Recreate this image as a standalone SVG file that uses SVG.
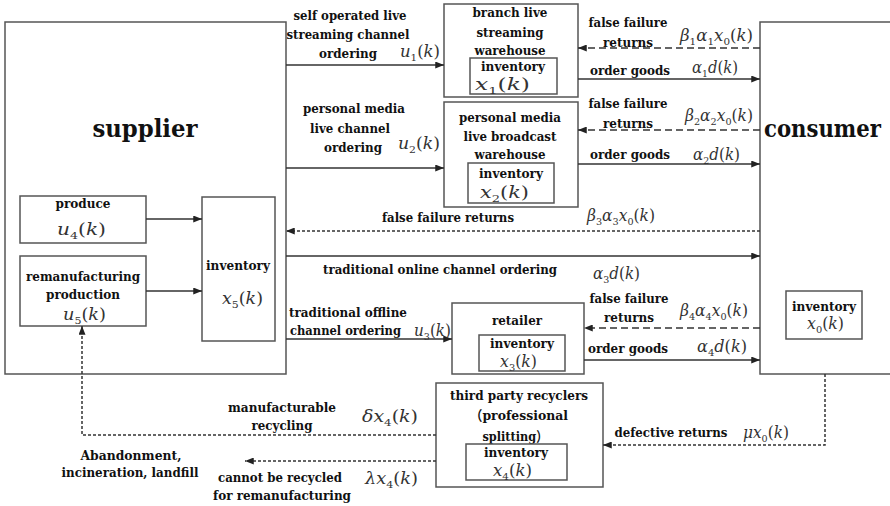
<svg xmlns="http://www.w3.org/2000/svg" width="890" height="506" viewBox="0 0 890 506">
<defs>
<marker id="ah" viewBox="0 0 10 8" markerWidth="9" markerHeight="7" refX="10" refY="4" orient="auto" markerUnits="userSpaceOnUse"><path d="M0,0 L10,4 L0,8 z" fill="#222"/></marker>
<style>
text{font-family:"DejaVu Serif","Liberation Serif",serif}
.box{fill:#fff;stroke:#555;stroke-width:1.5}
.t{font-weight:bold;font-size:13.5px;fill:#111;text-anchor:middle}
.ts{text-anchor:start}
.big{font-size:25px}
.m{font-style:italic;font-size:16px;fill:#333}
.s{font-size:10px;font-style:normal}
.n{font-style:normal}
.cj{font-family:"DejaVu Serif","Noto Sans CJK SC",serif}
.c{fill:none;stroke:#333;stroke-width:1.5}
.ar{marker-end:url(#ah)}
.d1{stroke-dasharray:7 4}
.d2{stroke-dasharray:3 2}
</style>
</defs>
<rect width="890" height="506" fill="#fff"/>

<g id="supplier">
<rect class="box" x="5" y="22" width="281" height="352"/>
<text class="t big" x="145" y="137" textLength="105" lengthAdjust="spacingAndGlyphs">supplier</text>
</g>

<g id="consumer">
<rect class="box" x="760" y="22" width="140" height="352"/>
<text class="t big ts" x="764" y="137" textLength="117" lengthAdjust="spacingAndGlyphs">consumer</text>
</g>

<g id="branch">
<rect class="box" x="444" y="4" width="134" height="93"/>
<text class="t" x="510" y="17" textLength="75" lengthAdjust="spacingAndGlyphs">branch live</text>
<text class="t" x="510" y="37" textLength="67" lengthAdjust="spacingAndGlyphs">streaming</text>
<text class="t" x="510" y="55" textLength="71" lengthAdjust="spacingAndGlyphs">warehouse</text>
<rect class="box" x="470" y="58" width="87" height="36"/>
<text class="t" x="513" y="71" textLength="64" lengthAdjust="spacingAndGlyphs">inventory</text>
<text class="m" x="475" y="90" font-size="21" textLength="55" lengthAdjust="spacingAndGlyphs">x<tspan class="s" font-size="12" dy="4">1</tspan><tspan class="n" dy="-4">(</tspan>k<tspan class="n">)</tspan></text>
</g>

<g id="personal">
<rect class="box" x="444" y="102" width="134" height="105"/>
<text class="t" x="510" y="122" textLength="102" lengthAdjust="spacingAndGlyphs">personal media</text>
<text class="t" x="510" y="141" textLength="93" lengthAdjust="spacingAndGlyphs">live broadcast</text>
<text class="t" x="510" y="159" textLength="71" lengthAdjust="spacingAndGlyphs">warehouse</text>
<rect class="box" x="468" y="163" width="86" height="40"/>
<text class="t" x="511" y="178" textLength="64" lengthAdjust="spacingAndGlyphs">inventory</text>
<text class="m" x="480" y="198" font-size="19" textLength="49" lengthAdjust="spacingAndGlyphs">x<tspan class="s" font-size="11" dy="4">2</tspan><tspan class="n" dy="-4">(</tspan>k<tspan class="n">)</tspan></text>
</g>

<g id="produce">
<rect class="box" x="20" y="196" width="126" height="47"/>
<text class="t" x="83" y="208" textLength="55" lengthAdjust="spacingAndGlyphs">produce</text>
<text class="m" x="57" y="235" font-size="21" textLength="49" lengthAdjust="spacingAndGlyphs">u<tspan class="s" font-size="12" dy="4">4</tspan><tspan class="n" dy="-4">(</tspan>k<tspan class="n">)</tspan></text>
</g>

<g id="reman">
<rect class="box" x="20" y="256" width="126" height="70"/>
<text class="t" x="83" y="281" textLength="114" lengthAdjust="spacingAndGlyphs">remanufacturing</text>
<text class="t" x="83" y="299" textLength="74" lengthAdjust="spacingAndGlyphs">production</text>
<text class="m" x="63" y="320" font-size="19" textLength="43" lengthAdjust="spacingAndGlyphs">u<tspan class="s" font-size="11" dy="4">5</tspan><tspan class="n" dy="-4">(</tspan>k<tspan class="n">)</tspan></text>
</g>

<g id="inv5">
<rect class="box" x="202" y="197" width="73" height="144"/>
<text class="t" x="238" y="270" textLength="64" lengthAdjust="spacingAndGlyphs">inventory</text>
<text class="m" x="222" y="304" font-size="18" textLength="41" lengthAdjust="spacingAndGlyphs">x<tspan class="s" dy="4">5</tspan><tspan class="n" dy="-4">(</tspan>k<tspan class="n">)</tspan></text>
</g>

<g id="retailer">
<rect class="box" x="452" y="303" width="132" height="71"/>
<text class="t" x="517" y="325" textLength="50" lengthAdjust="spacingAndGlyphs">retailer</text>
<rect class="box" x="479" y="335" width="86" height="36"/>
<text class="t" x="522" y="348" textLength="64" lengthAdjust="spacingAndGlyphs">inventory</text>
<text class="m" x="500" y="367" font-size="17" textLength="37" lengthAdjust="spacingAndGlyphs">x<tspan class="s" dy="4">3</tspan><tspan class="n" dy="-4">(</tspan>k<tspan class="n">)</tspan></text>
</g>

<g id="inv0">
<rect class="box" x="786" y="291" width="76" height="48"/>
<text class="t" x="824" y="311" textLength="64" lengthAdjust="spacingAndGlyphs">inventory</text>
<text class="m" x="807" y="329" font-size="17" textLength="37" lengthAdjust="spacingAndGlyphs">x<tspan class="s" dy="4">0</tspan><tspan class="n" dy="-4">(</tspan>k<tspan class="n">)</tspan></text>
</g>

<g id="recycler">
<rect class="box" x="436" y="383" width="167" height="104"/>
<text class="t" x="519" y="400" textLength="138" lengthAdjust="spacingAndGlyphs">third party recyclers</text>
<text class="t cj" x="519" y="420" textLength="98" lengthAdjust="spacingAndGlyphs">（professional</text>
<text class="t cj" x="515" y="441" textLength="65" lengthAdjust="spacingAndGlyphs">splitting）</text>
<rect class="box" x="466" y="444" width="101" height="36"/>
<text class="t" x="516" y="457" textLength="64" lengthAdjust="spacingAndGlyphs">inventory</text>
<text class="m" x="493" y="476" font-size="17" textLength="39" lengthAdjust="spacingAndGlyphs">x<tspan class="s" dy="4">4</tspan><tspan class="n" dy="-4">(</tspan>k<tspan class="n">)</tspan></text>
</g>

<g id="connectors">
<line class="c ar" x1="286" y1="65" x2="444" y2="65"/>
<line class="c ar" x1="286" y1="168" x2="444" y2="168"/>
<line class="c ar d1" x1="760" y1="48" x2="578" y2="48"/>
<line class="c ar" x1="578" y1="79" x2="760" y2="79"/>
<line class="c ar d1" x1="760" y1="130" x2="578" y2="130"/>
<line class="c ar" x1="578" y1="164" x2="760" y2="164"/>
<line class="c ar" x1="146" y1="219" x2="202" y2="219"/>
<line class="c ar" x1="146" y1="291" x2="202" y2="291"/>
<line class="c ar d2" x1="760" y1="231" x2="286" y2="231"/>
<line class="c ar" x1="286" y1="256" x2="760" y2="256"/>
<line class="c ar" x1="286" y1="339" x2="452" y2="339"/>
<line class="c ar d1" x1="760" y1="328" x2="584" y2="328"/>
<line class="c ar" x1="584" y1="360" x2="760" y2="360"/>
<polyline class="c ar d2" points="825,374 825,445 603,445"/>
<polyline class="c ar d2" points="436,435 82,435 82,326"/>
<line class="c ar d2" x1="436" y1="461" x2="245" y2="461"/>
</g>

<g id="labels">
<text class="t" x="350" y="20" textLength="113" lengthAdjust="spacingAndGlyphs">self operated live</text>
<text class="t" x="348" y="39" textLength="123" lengthAdjust="spacingAndGlyphs">streaming channel</text>
<text class="t" x="348" y="58" textLength="58" lengthAdjust="spacingAndGlyphs">ordering</text>
<text class="m" x="400" y="57" font-size="18" textLength="40" lengthAdjust="spacingAndGlyphs">u<tspan class="s" dy="4">1</tspan><tspan class="n" dy="-4">(</tspan>k<tspan class="n">)</tspan></text>

<text class="t" x="354" y="113" textLength="102" lengthAdjust="spacingAndGlyphs">personal media</text>
<text class="t" x="350" y="133" textLength="80" lengthAdjust="spacingAndGlyphs">live channel</text>
<text class="t" x="353" y="152" textLength="58" lengthAdjust="spacingAndGlyphs">ordering</text>
<text class="m" x="398" y="149" font-size="18" textLength="42" lengthAdjust="spacingAndGlyphs">u<tspan class="s" dy="4">2</tspan><tspan class="n" dy="-4">(</tspan>k<tspan class="n">)</tspan></text>

<text class="t" x="628" y="27" textLength="79" lengthAdjust="spacingAndGlyphs">false failure</text>
<text class="t" x="628" y="47" textLength="50" lengthAdjust="spacingAndGlyphs">returns</text>
<text class="m" x="680" y="41" font-size="16" textLength="73" lengthAdjust="spacingAndGlyphs">β<tspan class="s" dy="4">1</tspan><tspan dy="-4">α</tspan><tspan class="s" dy="4">1</tspan><tspan dy="-4">x</tspan><tspan class="s" dy="4">0</tspan><tspan class="n" dy="-4">(</tspan>k<tspan class="n">)</tspan></text>
<text class="t" x="630" y="75" textLength="80" lengthAdjust="spacingAndGlyphs">order goods</text>
<text class="m" x="692" y="73" font-size="16" textLength="46" lengthAdjust="spacingAndGlyphs">α<tspan class="s" dy="4">1</tspan><tspan dy="-4">d</tspan><tspan class="n">(</tspan>k<tspan class="n">)</tspan></text>

<text class="t" x="628" y="108" textLength="79" lengthAdjust="spacingAndGlyphs">false failure</text>
<text class="t" x="628" y="128" textLength="50" lengthAdjust="spacingAndGlyphs">returns</text>
<text class="m" x="685" y="121" font-size="15" textLength="68" lengthAdjust="spacingAndGlyphs">β<tspan class="s" dy="4">2</tspan><tspan dy="-4">α</tspan><tspan class="s" dy="4">2</tspan><tspan dy="-4">x</tspan><tspan class="s" dy="4">0</tspan><tspan class="n" dy="-4">(</tspan>k<tspan class="n">)</tspan></text>
<text class="t" x="630" y="159" textLength="80" lengthAdjust="spacingAndGlyphs">order goods</text>
<text class="m" x="693" y="160" font-size="16" textLength="47" lengthAdjust="spacingAndGlyphs">α<tspan class="s" dy="4">2</tspan><tspan dy="-4">d</tspan><tspan class="n">(</tspan>k<tspan class="n">)</tspan></text>

<text class="t" x="448" y="222" textLength="132" lengthAdjust="spacingAndGlyphs">false failure returns</text>
<text class="m" x="587" y="221" font-size="15" textLength="68" lengthAdjust="spacingAndGlyphs">β<tspan class="s" dy="4">3</tspan><tspan dy="-4">α</tspan><tspan class="s" dy="4">3</tspan><tspan dy="-4">x</tspan><tspan class="s" dy="4">0</tspan><tspan class="n" dy="-4">(</tspan>k<tspan class="n">)</tspan></text>
<text class="t" x="440" y="274" textLength="234" lengthAdjust="spacingAndGlyphs">traditional online channel ordering</text>
<text class="m" x="593" y="279" font-size="16" textLength="47" lengthAdjust="spacingAndGlyphs">α<tspan class="s" dy="4">3</tspan><tspan dy="-4">d</tspan><tspan class="n">(</tspan>k<tspan class="n">)</tspan></text>

<text class="t ts" x="289" y="317" textLength="118" lengthAdjust="spacingAndGlyphs">traditional offline</text>
<text class="t ts" x="290" y="335" textLength="111" lengthAdjust="spacingAndGlyphs">channel ordering</text>
<text class="m" x="414" y="336" font-size="17" textLength="37" lengthAdjust="spacingAndGlyphs">u<tspan class="s" dy="4">3</tspan><tspan class="n" dy="-4">(</tspan>k<tspan class="n">)</tspan></text>

<text class="t" x="629" y="303" textLength="79" lengthAdjust="spacingAndGlyphs">false failure</text>
<text class="t" x="629" y="322" textLength="50" lengthAdjust="spacingAndGlyphs">returns</text>
<text class="m" x="680" y="316" font-size="16" textLength="68" lengthAdjust="spacingAndGlyphs">β<tspan class="s" dy="4">4</tspan><tspan dy="-4">α</tspan><tspan class="s" dy="4">4</tspan><tspan dy="-4">x</tspan><tspan class="s" dy="4">0</tspan><tspan class="n" dy="-4">(</tspan>k<tspan class="n">)</tspan></text>
<text class="t" x="628" y="353" textLength="80" lengthAdjust="spacingAndGlyphs">order goods</text>
<text class="m" x="697" y="352" font-size="17" textLength="50" lengthAdjust="spacingAndGlyphs">α<tspan class="s" dy="4">4</tspan><tspan dy="-4">d</tspan><tspan class="n">(</tspan>k<tspan class="n">)</tspan></text>

<text class="t" x="671" y="437" textLength="113" lengthAdjust="spacingAndGlyphs">defective returns</text>
<text class="m" x="743" y="438" font-size="16" textLength="46" lengthAdjust="spacingAndGlyphs">μx<tspan class="s" dy="4">0</tspan><tspan class="n" dy="-4">(</tspan>k<tspan class="n">)</tspan></text>

<text class="t" x="282" y="412" textLength="108" lengthAdjust="spacingAndGlyphs">manufacturable</text>
<text class="t" x="282" y="430" textLength="61" lengthAdjust="spacingAndGlyphs">recycling</text>
<text class="m" x="362" y="422" font-size="21" textLength="56" lengthAdjust="spacingAndGlyphs">δx<tspan class="s" font-size="12" dy="4">4</tspan><tspan class="n" dy="-4">(</tspan>k<tspan class="n">)</tspan></text>

<text class="t" x="131" y="460" textLength="101" lengthAdjust="spacingAndGlyphs">Abandonment,</text>
<text class="t" x="130" y="477" textLength="137" lengthAdjust="spacingAndGlyphs">incineration, landfill</text>

<text class="t" x="280" y="482" textLength="124" lengthAdjust="spacingAndGlyphs">cannot be recycled</text>
<text class="t" x="282" y="500" textLength="138" lengthAdjust="spacingAndGlyphs">for remanufacturing</text>
<text class="m" x="365" y="484" font-size="20" textLength="53" lengthAdjust="spacingAndGlyphs">λx<tspan class="s" font-size="11" dy="4">4</tspan><tspan class="n" dy="-4">(</tspan>k<tspan class="n">)</tspan></text>
</g>
</svg>
